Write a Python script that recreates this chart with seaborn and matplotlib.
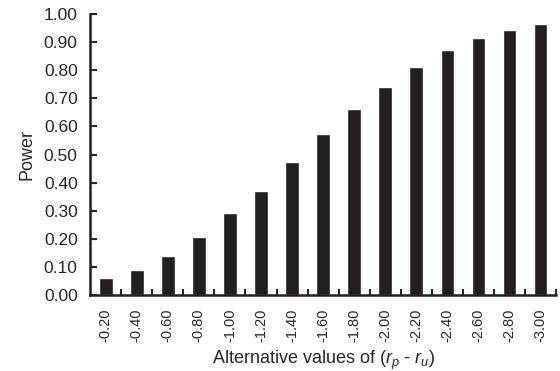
import matplotlib
matplotlib.use("Agg")
import matplotlib.pyplot as plt
import seaborn as sns
import pandas as pd

alt_values = ["-0.20", "-0.40", "-0.60", "-0.80", "-1.00", "-1.20", "-1.40", "-1.60",
              "-1.80", "-2.00", "-2.20", "-2.40", "-2.60", "-2.80", "-3.00"]
power = [0.062, 0.09, 0.14, 0.207, 0.29, 0.37, 0.472, 0.572,
         0.662, 0.742, 0.812, 0.872, 0.915, 0.942, 0.965]
y_ticks = [0.0, 0.1, 0.2, 0.3, 0.4, 0.5, 0.6, 0.7, 0.8, 0.9, 1.0]

sns.set_style("ticks")
plt.rcParams['font.family'] = ['Liberation Sans', 'DejaVu Sans']
plt.rcParams['mathtext.fontset'] = 'custom'
plt.rcParams['mathtext.it'] = 'Liberation Sans:italic'
plt.rcParams['mathtext.rm'] = 'Liberation Sans'

df = pd.DataFrame({"alt": alt_values, "power": power})

fig = plt.figure(figsize=(5.6, 3.71), dpi=100)
ax = fig.add_axes([0.161, 0.205, 0.832, 0.757])

sns.barplot(data=df, x="alt", y="power", color="#231f20", width=0.44,
            saturation=1, ax=ax)

ax.set_xlim(-0.5, len(alt_values) - 0.5)
ax.set_ylim(0, 1.0)
ax.set_yticks(y_ticks)
ax.set_yticklabels([f"{v:.2f}" for v in y_ticks], fontsize=12.5)

# ticks sit between bars, labels under bars
ax.set_xticks([i + 0.5 for i in range(len(alt_values))], minor=False)
ax.set_xticklabels([])
ax.set_xticks(range(len(alt_values)), minor=True)
ax.set_xticklabels(alt_values, minor=True, rotation=90, fontsize=10.5)
ax.tick_params(axis='x', which='minor', length=0, pad=10)
ax.tick_params(axis='x', which='major', direction='in', length=4, width=1.5)
ax.tick_params(axis='y', direction='in', length=5, width=1.5, pad=9)

for s in ["top", "right"]:
    ax.spines[s].set_visible(False)
for s in ["left", "bottom"]:
    ax.spines[s].set_linewidth(1.8)
    ax.spines[s].set_color("#231f20")

ax.set_xlabel(r"Alternative values of ($r_p$ - $r_u$)", fontsize=13, labelpad=5)
ax.set_ylabel("Power", fontsize=13, labelpad=6)

fig.savefig("out.png", dpi=100)
